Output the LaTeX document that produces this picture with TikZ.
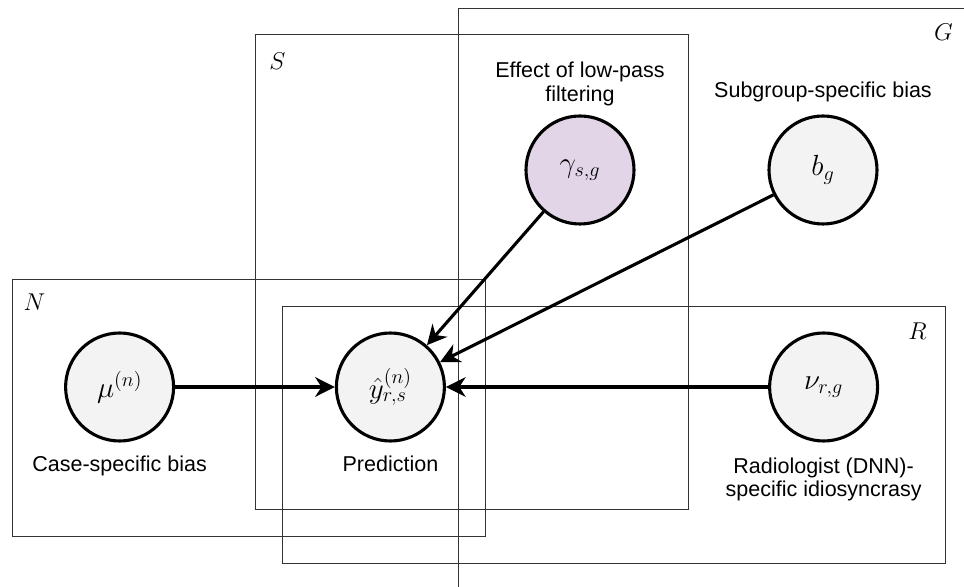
\documentclass[tikz,border=0pt]{standalone}
\usepackage{amsmath}
\usepackage{fontspec}
\setmainfont{Liberation Sans}
\usepackage{xcolor}
\usepackage{tikz}
\usetikzlibrary{positioning,arrows.meta}

\definecolor{nodegray}{HTML}{F3F3F3}
\definecolor{lowpass}{HTML}{E1D5E7}
\definecolor{plategray}{HTML}{333333}

\begin{document}
\begin{tikzpicture}[
    var/.style={circle, draw=black, line width=2.2pt, fill=nodegray, minimum size=2.7cm, inner sep=0pt, font=\fontsize{20.74}{25}\selectfont},
    plate/.style={rectangle, draw=plategray, line width=0.7pt, inner sep=0pt},
    platelabel/.style={font=\fontsize{17.28}{20}\selectfont, inner sep=0pt},
    desc/.style={align=center, font=\fontsize{15.3}{17}\selectfont},
    arrow/.style={-{Stealth[length=14pt, width=14pt, inset=4.5pt]}, line width=2.2pt},
    node distance=0.2cm
]
\useasboundingbox (0,0) rectangle (24.1,-14.675);
\clip (0,0) rectangle (24.1,-14.675);

% plates
\node[plate, minimum width=12.825cm, minimum height=15.3cm] (gplate) at (17.8625,-7.85) {};
\node[plate, minimum width=10.825cm, minimum height=11.875cm] (splate) at (11.7875,-6.7875) {};
\node[plate, minimum width=11.825cm, minimum height=6.425cm] (nplate) at (6.2125,-10.1875) {};
\node[plate, minimum width=16.575cm, minimum height=6.425cm] (rplate) at (15.3375,-10.8625) {};
\node[platelabel] (glabel) at ([shift={(-0.7,-0.625)}]gplate.north east) {$G$};
\node[platelabel] (slabel) at ([shift={(0.575,-0.7)}]splate.north west) {$S$};
\node[platelabel] (nlabel) at ([shift={(0.575,-0.6)}]nplate.north west) {$N$};
\node[platelabel] (rlabel) at ([shift={(-0.7,-0.65)}]rplate.north east) {$R$};

% variables
\node[var, fill=lowpass] (gamma) at (14.5,-4.25) {$\gamma_{s,g}$};
\node[var] (bias) at (20.575,-4.25) {$b_g$};
\node[var] (mu) at (2.99,-9.675) {$\mu^{(n)}$};
\node[var] (yhat) at (9.76,-9.675) {$\hat{y}^{(n)}_{r,s}$};
\node[var] (nu) at (20.59,-9.675) {$\nu_{r,g}$};

\node[desc, above=0.08cm of gamma] (gammatext) {Effect of low-pass\\filtering};
\node[desc, above=0.18cm of bias] (biastext) {Subgroup-specific bias};
\node[desc, below=of mu] (mutext) {Case-specific bias};
\node[desc, below=of yhat] (yhattext) {Prediction};
\node[desc, below=0.25cm of nu] (nutext) {Radiologist (DNN)-\\specific idiosyncrasy};

% edges
\draw[arrow] (mu) -- (yhat);
\draw[arrow] (nu) -- (yhat);
\draw[arrow] (gamma) -- (yhat);
\draw[arrow] (bias) -- (yhat);

\end{tikzpicture}
\end{document}
